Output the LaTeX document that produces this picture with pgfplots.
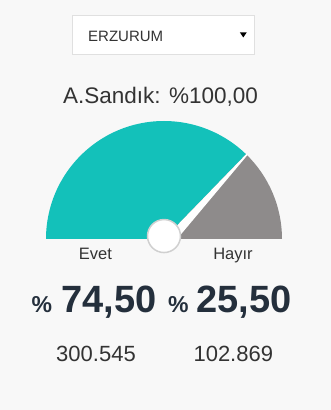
\documentclass[border=0pt]{standalone}
\usepackage{pgfplots}
\pgfplotsset{compat=1.18}
\usepackage{pgfplotstable}
\usepackage{fontspec}
\setmainfont{Liberation Sans}
\usetikzlibrary{calc}

\definecolor{pagebg}{RGB}{248,248,248}
\definecolor{evetcol}{RGB}{19,193,186}
\definecolor{hayircol}{RGB}{142,139,139}
\definecolor{boxline}{RGB}{224,224,224}
\definecolor{ringcol}{RGB}{208,208,208}
\definecolor{txtdark}{RGB}{51,51,51}
\definecolor{numdark}{RGB}{36,47,60}

\pgfkeys{/pgf/number format/assume math mode=true}

% referendum result: share (%) and vote count, Evet first, Hayir second
\pgfplotstableread{
share count
74.50 300545
25.50 102869
}\results

\pgfplotstablegetelem{0}{share}\of\results \let\evetshare\pgfplotsretval
\pgfplotstablegetelem{1}{share}\of\results \let\hayirshare\pgfplotsretval
\pgfplotstablegetelem{0}{count}\of\results \let\evetcount\pgfplotsretval
\pgfplotstablegetelem{1}{count}\of\results \let\hayircount\pgfplotsretval

\newcommand{\pct}[1]{\pgfmathprintnumber[fixed,fixed zerofill,precision=2,use comma]{#1}}
\newcommand{\votes}[1]{\pgfmathprintnumber[fixed,precision=0,1000 sep={.}]{#1}}

\begin{document}
\begin{tikzpicture}[x=1pt,y=1pt]
\pgfmathsetmacro{\ang}{180-1.8*\evetshare}
% page background
\fill[pagebg] (0,0) rectangle (331,410);

% province selector
\draw[boxline, fill=white, line width=1pt] (72.5,355) rectangle (254.5,394);
\node[anchor=base west, inner sep=0pt, text=txtdark, font=\fontsize{15}{18}\selectfont] at (88,368.5) {ERZURUM};
\fill[black] (239.8,377.7) -- (246.8,377.7) -- (243.3,372.5) -- cycle;

% title
\node[anchor=base, inner sep=0pt, text=txtdark, font=\fontsize{22.5}{26}\selectfont] at (160.5,306) {A.Sandık: \%\pgfmathprintnumber[fixed,fixed zerofill,precision=2,use comma]{100}};

% half-circle gauge
\begin{axis}[
  at={(22.4pt,147.4pt)}, anchor=south west,
  scale only axis, width=283.2pt, height=165.2pt,
  xmin=-1.2, xmax=1.2, ymin=-0.2, ymax=1.2,
  hide axis, clip=false,
]
\fill[evetcol] (axis cs:0,0) -- (axis cs:-1,0) arc[start angle=180, end angle=\ang, radius=118pt] -- cycle;
\fill[hayircol] (axis cs:0,0) -- ($(axis cs:0,0)+(\ang:118pt)$) arc[start angle=\ang, end angle=0, radius=118pt] -- cycle;
% needle pointing at the Evet share
\fill[white] (axis cs:0,0) -- ($(axis cs:0,0)+(\ang-90:10pt)$)
  -- ($(axis cs:0,0)+(\ang:118.5pt)+(\ang-90:1.5pt)$)
  -- ($(axis cs:0,0)+(\ang:118.5pt)$) -- cycle;
\draw[ringcol, line width=1.5pt, fill=white] (axis cs:0,0.025) circle[radius=16.5pt];
\end{axis}

% side labels
\node[anchor=base, inner sep=0pt, text=txtdark, font=\fontsize{16.5}{20}\selectfont] at (95.5,150) {Evet};
\node[anchor=base, inner sep=0pt, text=txtdark, font=\fontsize{16.5}{20}\selectfont] at (233,150) {Hayır};

% shares
\node[anchor=base west, inner sep=0pt, text=numdark, font=\fontsize{23}{26}\selectfont\bfseries] at (31.5,97) {\%};
\node[anchor=base west, inner sep=0pt, text=numdark, font=\fontsize{38}{42}\selectfont\bfseries] at (61.5,97) {\pct{\evetshare}};
\node[anchor=base west, inner sep=0pt, text=numdark, font=\fontsize{23}{26}\selectfont\bfseries] at (168,97) {\%};
\node[anchor=base west, inner sep=0pt, text=numdark, font=\fontsize{38}{42}\selectfont\bfseries] at (196.5,97) {\pct{\hayirshare}};

% vote counts
\node[anchor=base, inner sep=0pt, text=txtdark, font=\fontsize{22}{26}\selectfont] at (96,48.3) {\votes{\evetcount}};
\node[anchor=base, inner sep=0pt, text=txtdark, font=\fontsize{22}{26}\selectfont] at (233.3,48.3) {\votes{\hayircount}};
\end{tikzpicture}
\end{document}
